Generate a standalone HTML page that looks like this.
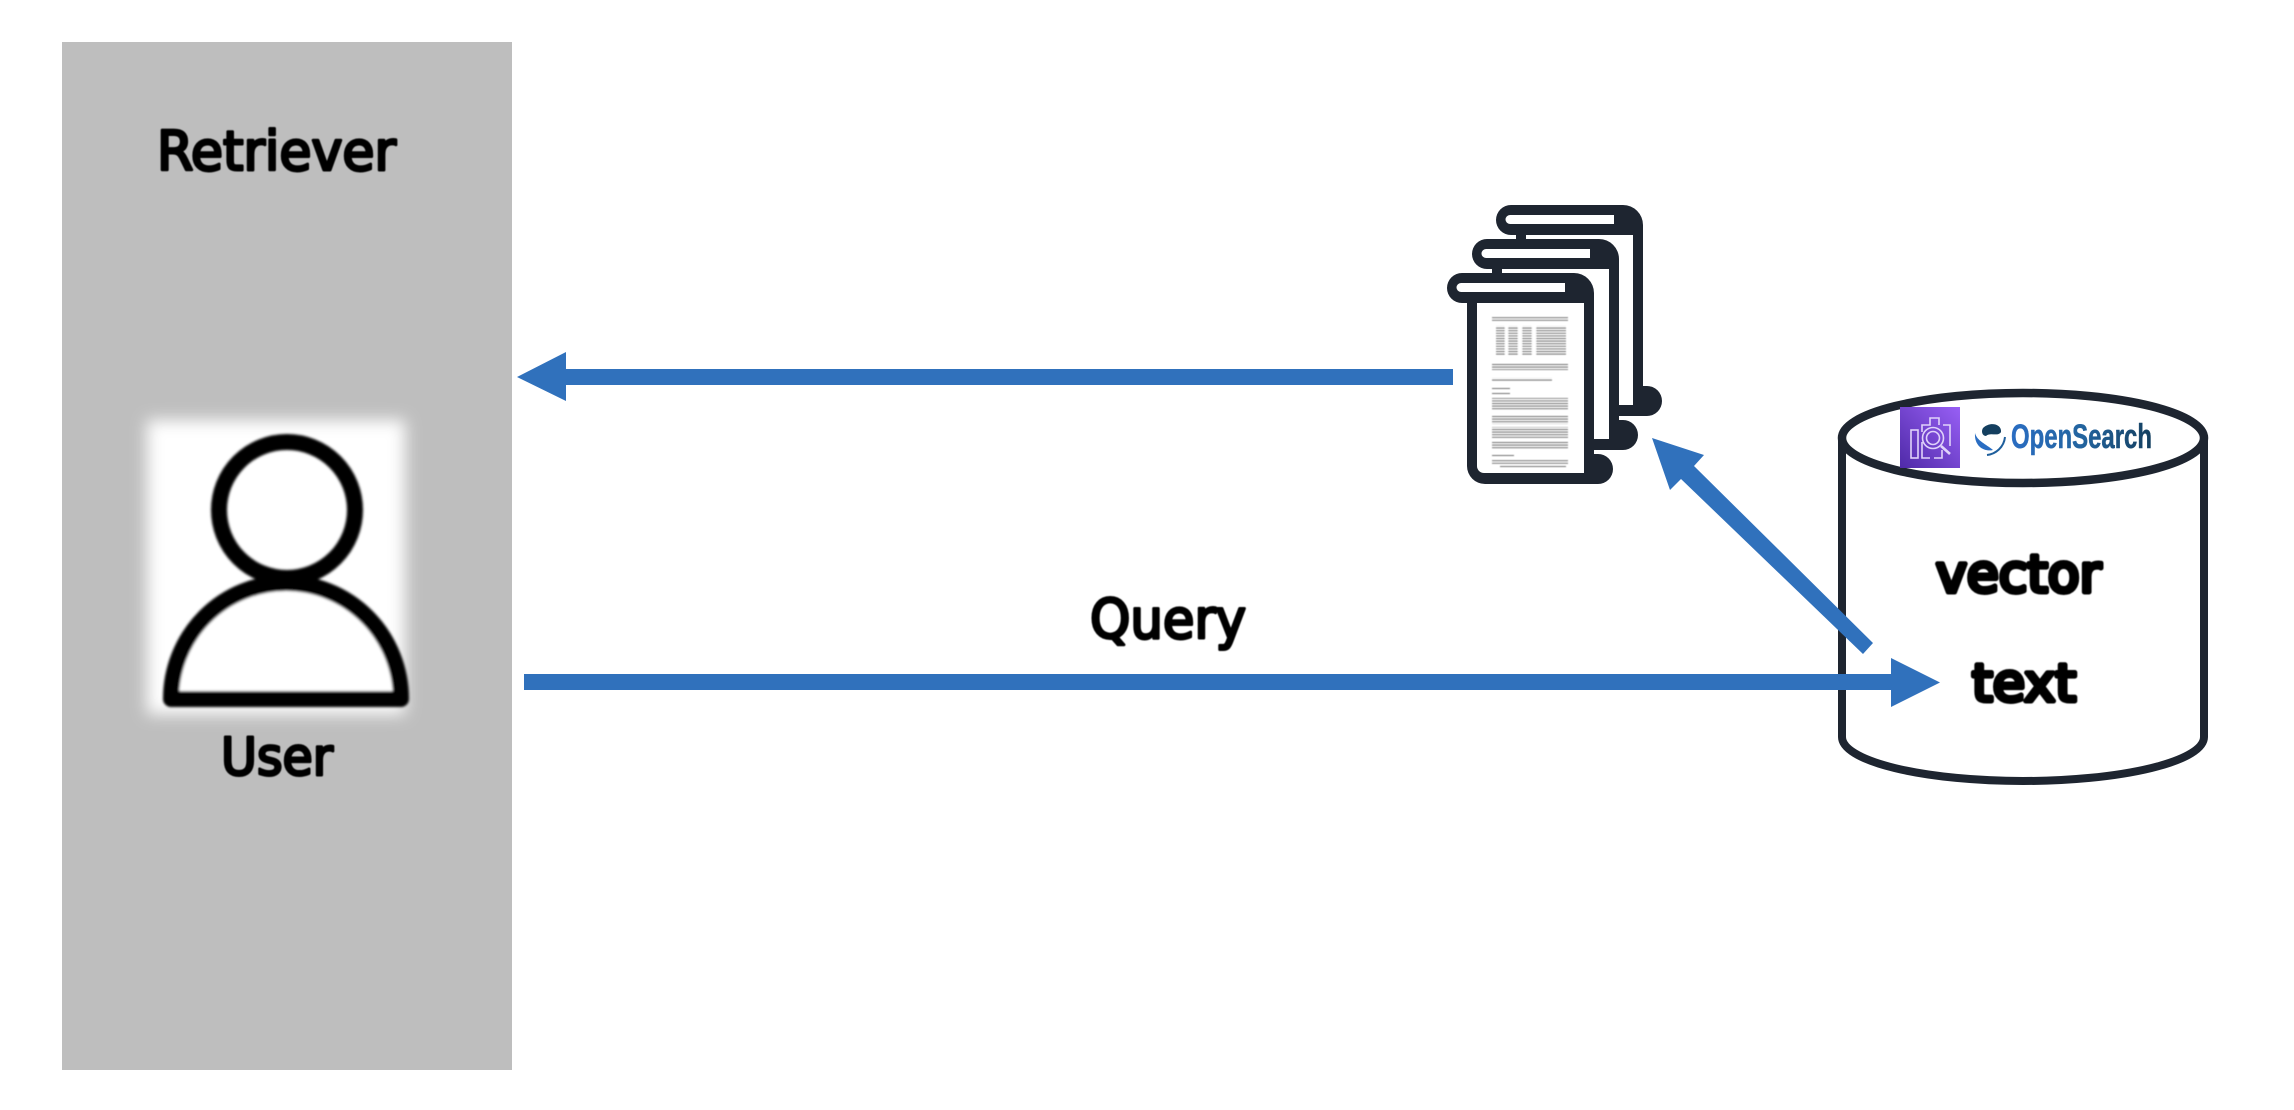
<!DOCTYPE html>
<html><head><meta charset="utf-8"><style>
html,body{margin:0;padding:0;background:#fff;width:2294px;height:1110px;overflow:hidden}
svg{display:block}
text{font-family:"DejaVu Sans",sans-serif;fill:#000;stroke:#000;stroke-linejoin:round;stroke-linecap:round}
</style></head><body>
<svg width="2294" height="1110" viewBox="0 0 2294 1110" xmlns="http://www.w3.org/2000/svg">
<defs>
<filter id="b6" x="-20%" y="-20%" width="140%" height="140%"><feGaussianBlur stdDeviation="8"/></filter>
<filter id="b1" x="-5%" y="-5%" width="110%" height="110%"><feGaussianBlur stdDeviation="1.4"/></filter>
<filter id="b05" x="-5%" y="-5%" width="110%" height="110%"><feGaussianBlur stdDeviation="0.6"/></filter>
<filter id="t1" x="-5%" y="-5%" width="110%" height="110%"><feGaussianBlur stdDeviation="0.6"/></filter>
<pattern id="ln" width="6" height="2.6" patternUnits="userSpaceOnUse"><rect width="6" height="1" fill="#444"/></pattern>
<linearGradient id="pur" x1="0" y1="1" x2="1" y2="0"><stop offset="0" stop-color="#4f2aa8"/><stop offset="1" stop-color="#985ff5"/></linearGradient>
<linearGradient id="os" x1="0" x2="1" y1="0" y2="0"><stop offset="0" stop-color="#2a6dc2"/><stop offset=".5" stop-color="#23649f"/><stop offset="1" stop-color="#143f5f"/></linearGradient>
<g id="doc">
<path fill="#1e2530" d="M1462 273H1574A20 20 0 0 1 1594 293V454H1598A15 15 0 0 1 1598 484H1485A18 18 0 0 1 1467 466V303H1462A15 15 0 0 1 1462 273Z"/>
<path fill="#fff" d="M1477 303H1584V473H1484A7 7 0 0 1 1477 466Z"/>
<path fill="#fff" d="M1461 283H1565V292H1461A4.500 4.500 0 0 1 1461 283Z"/>
</g>
</defs>
<rect width="2294" height="1110" fill="#fff"/>
<rect x="62" y="42" width="450" height="1028" fill="#bebebe"/>

<rect x="147" y="420" width="258" height="294" fill="#fff" filter="url(#b6)"/>
<g filter="url(#b1)" fill="none" stroke="#050505" stroke-width="16">
<circle cx="287" cy="510" r="68"/>
<path d="M171 699A115 116 0 0 1 401 699Z" fill="#fff" stroke-linejoin="round"/>
</g>

<g filter="url(#t1)">
<text x="157" y="170" font-size="54" stroke-width="3" textLength="239" lengthAdjust="spacingAndGlyphs">Retriever</text>
<text x="221" y="775" font-size="52" stroke-width="3" textLength="112" lengthAdjust="spacingAndGlyphs">User</text>
<text x="1090" y="638" font-size="54" stroke-width="3" textLength="156" lengthAdjust="spacingAndGlyphs">Query</text>
<text x="1936" y="592" font-size="52" stroke-width="5" textLength="165" lengthAdjust="spacingAndGlyphs">vector</text>
<text x="1972" y="701" font-size="52" stroke-width="5" textLength="104" lengthAdjust="spacingAndGlyphs">text</text>
</g>

<g>
<use href="#doc" transform="translate(49 -68)"/>
<use href="#doc" transform="translate(25 -34)"/>
<use href="#doc"/>
<g filter="url(#b05)" opacity=".75">
<rect x="1492" y="317" width="76" height="5" fill="url(#ln)"/>
<rect x="1496" y="326" width="70" height="29" fill="url(#ln)"/>
<rect x="1505" y="326" width="3" height="29" fill="#fff"/>
<rect x="1518" y="326" width="4" height="29" fill="#fff"/>
<rect x="1532" y="326" width="4" height="29" fill="#fff"/>
<rect x="1492" y="363" width="76" height="7" fill="url(#ln)"/>
<rect x="1492" y="378" width="60" height="4" fill="url(#ln)"/>
<rect x="1492" y="388" width="18" height="1" fill="#444"/>
<rect x="1492" y="393" width="18" height="1" fill="#444"/>
<rect x="1492" y="398" width="76" height="12" fill="url(#ln)"/>
<rect x="1492" y="415" width="76" height="9" fill="url(#ln)"/>
<rect x="1492" y="427" width="76" height="12" fill="url(#ln)"/>
<rect x="1492" y="442" width="76" height="7" fill="url(#ln)"/>
<rect x="1492" y="455" width="22" height="1" fill="#444"/>
<rect x="1492" y="460" width="76" height="4" fill="url(#ln)"/>
<rect x="1500" y="466" width="66" height="1" fill="#444"/>
</g>
</g>

<path fill="none" stroke="#1e2530" stroke-width="8" d="M1842 438V737A181 44 0 0 0 2204 737V438"/>
<ellipse cx="2023" cy="438" rx="181" ry="45" fill="#fff" stroke="#1e2530" stroke-width="8.500"/>

<rect x="1900" y="407" width="60" height="61" fill="url(#pur)"/>
<g fill="none" stroke="#e0d2fa" stroke-width="1.600">
<rect x="1911" y="430" width="7" height="28"/>
<path d="M1922 432V425H1930V418H1939V425M1922 442V458H1930M1934 458H1942V450M1943 425H1950V446"/>
<circle cx="1933" cy="438" r="10.500"/><circle cx="1933" cy="438" r="6.500"/>
<path d="M1941 446l9 8" stroke-width="2.600"/>
</g>
<path fill="#143f5f" d="M1983 428C1990 421 2002 424 2001 432C1998 437 1990 432 1986 436C1982 436 1981 431 1983 428Z"/>
<path fill="#2a6dc2" d="M1975 433C1977 441 1986 444 1993 450C1985 452 1974 447 1975 433Z"/>
<path fill="none" stroke="#1f5f9c" stroke-width="2" d="M2005 437C2004 447 1996 454 1987 455"/>
<text x="2011" y="448" style="font-family:'Liberation Sans',sans-serif;fill:url(#os);stroke:url(#os)" font-size="34" font-weight="bold" stroke-width=".5" textLength="141" lengthAdjust="spacingAndGlyphs">OpenSearch</text>

<g fill="#3071bc">
<polygon points="517,377 566,352 566,369 1453,369 1453,385 566,385 566,401"/>
<polygon points="524,674 1891,674 1891,658 1940,682.500 1891,707 1891,690 524,690"/>
<polygon points="1652,438 1704,455 1694,466 1873,643 1863,654 1681,479 1670,490"/>
</g>
</svg>
</body></html>
